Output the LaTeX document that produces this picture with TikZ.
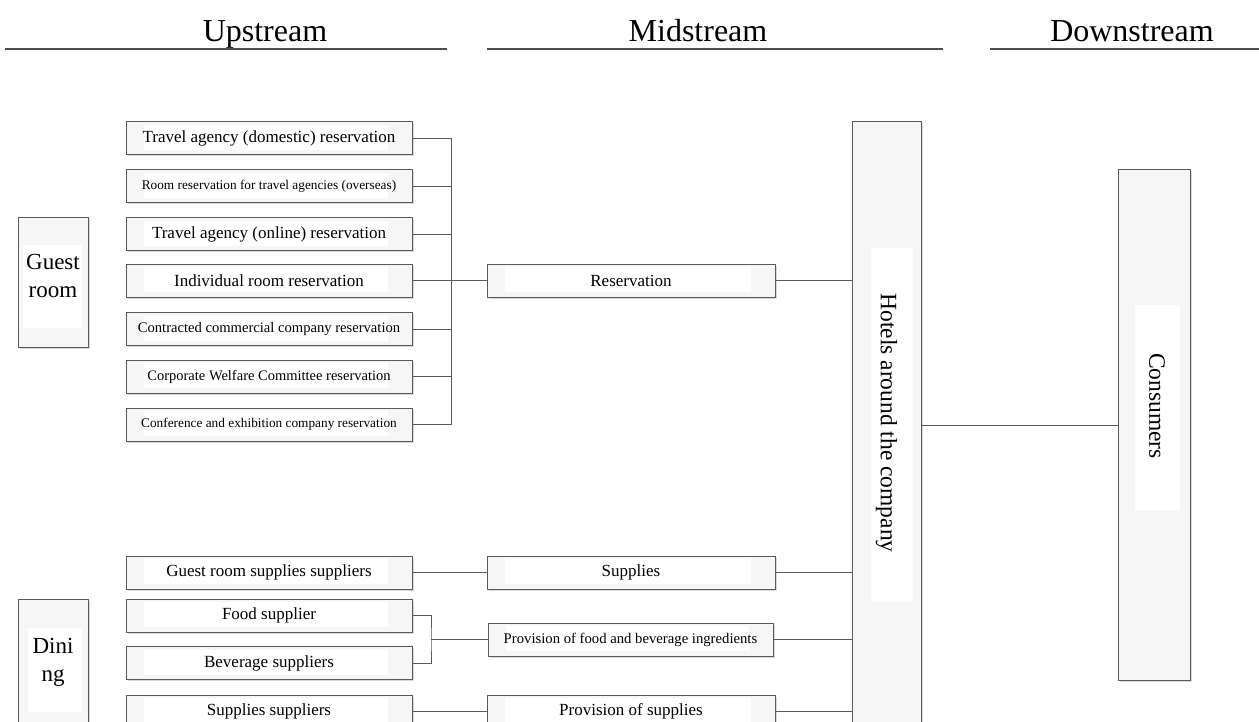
\documentclass[tikz,border=0pt]{standalone}
\usepackage{fontspec}
\setmainfont{Liberation Serif}
\usetikzlibrary{shadows}
\definecolor{boxline}{RGB}{90,90,90}
\definecolor{boxfill}{RGB}{246,246,246}
\newcommand\fsz[1]{\fontsize{#1}{#1}\selectfont}
\tikzset{
  box/.style={draw=boxline, line width=1pt, fill=boxfill, inner sep=0pt,
    minimum height=33pt, minimum width=286pt,
    drop shadow={shadow xshift=1.5pt, shadow yshift=-1.5pt, fill=black, opacity=0.15},
    path picture={\fill[white] ([xshift=18pt,yshift=-3pt]path picture bounding box.north west)
      rectangle ([xshift=-24pt,yshift=5pt]path picture bounding box.south east);}},
  tallbox/.style={draw=boxline, line width=1pt, fill=boxfill, inner sep=0pt,
    drop shadow={shadow xshift=1.5pt, shadow yshift=-1.5pt, fill=black, opacity=0.15}},
  inner/.style={fill=white},
  conn/.style={draw=boxline, line width=1pt},
  head/.style={font=\fsz{32}, anchor=base, inner sep=0pt},
  hline/.style={draw=black!70, line width=1.6pt},
  cat/.style={font=\fontsize{23}{28}\selectfont, align=center, inner sep=0pt},
}
\begin{document}
\begin{tikzpicture}[x=1pt, y=-1pt]
\useasboundingbox (0,0) rectangle (1259,722);
\begin{scope}
\clip (0,0) rectangle (1259,722);

% headers
\node[head] (up)   at (265,42)  {Upstream};
\node[head] (mid)  at (698,42)  {Midstream};
\node[head] (down) at (1132,42) {Downstream};
\draw[hline] (5,49) -- (447,49);
\draw[hline] (487,49) -- (943,49);
\draw[hline] (990,49) -- (1259,49);

% category boxes
\node[tallbox, minimum width=70pt, minimum height=129pt] (guest) at (53,282.5) {};
\fill[inner] (23,245) rectangle (82,328);
\node[cat] (guestT) at (53,276) {Guest\\room};
\node[tallbox, minimum width=70pt, minimum height=129pt] (dining) at (53,663.5) {};
\fill[inner] (28,628) rectangle (82,712);
\node[cat] (diningT) at (53,662) {Dini\\ng};

% left boxes
\node[box, font=\fsz{17}]   (r1) at (269,138.5) {Travel agency (domestic) reservation};
\node[box, font=\fsz{13.3}] (r2) at (269,186.5) {Room reservation for travel agencies (overseas)};
\node[box, font=\fsz{17}]   (r3) at (269,234.5) {Travel agency (online) reservation};
\node[box, font=\fsz{17}]   (r4) at (269,281)   {Individual room reservation};
\node[box, font=\fsz{14.6}] (r5) at (269,329)   {Contracted commercial company reservation};
\node[box, font=\fsz{14.5}] (r6) at (269,376.5) {Corporate Welfare Committee reservation};
\node[box, font=\fsz{13.3}] (r7) at (269,424.5) {Conference and exhibition company reservation};
\node[box, font=\fsz{17}]   (g)  at (269,572.5) {Guest room supplies suppliers};
\node[box, font=\fsz{17}]   (food) at (269,615.5) {Food supplier};
\node[box, font=\fsz{17}]   (bev)  at (269,663)   {Beverage suppliers};
\node[box, font=\fsz{17}]   (ss)   at (269,711.5) {Supplies suppliers};

% middle boxes
\node[box, minimum width=288pt, font=\fsz{17}]   (resv)  at (631,281)   {Reservation};
\node[box, minimum width=288pt, font=\fsz{17}]   (supp)  at (631,572.5) {Supplies};
\node[box, minimum width=285pt, font=\fsz{14.7}] (prov)  at (630.5,639.5) {Provision of food and beverage ingredients};
\node[box, minimum width=288pt, font=\fsz{17}]   (provs) at (631,711.5) {Provision of supplies};

% right boxes
\node[tallbox, minimum width=69pt, minimum height=606pt] (hot) at (886.5,425) {};
\fill[inner] (871,248) rectangle (913,602);
\node[font=\fsz{23.5}, rotate=-90, inner sep=0pt] (hotT) at (886.5,423) {Hotels around the company};
\node[tallbox, minimum width=72pt, minimum height=510pt] (cons) at (1154,425) {};
\fill[inner] (1135,305) rectangle (1180,510);
\node[font=\fsz{23.5}, rotate=-90, inner sep=0pt] (consT) at (1157,406) {Consumers};

% connectors
\coordinate (bus) at (451,281);
\foreach \n in {r1,r2,r3,r5,r6,r7} \draw[conn] (\n.east) -- (\n.east -| bus);
\draw[conn] (r1.east -| bus) -- (r7.east -| bus);
\draw[conn] (r4.east) -- (resv.west);
\draw[conn] (resv.east) -- (resv.east -| hot.west);
\draw[conn] (g.east) -- (supp.west);
\draw[conn] (supp.east) -- (supp.east -| hot.west);
\coordinate (fb) at (431,639.5);
\draw[conn] (food.east) -| (fb) |- (bev.east);
\draw[conn] (fb) -- (prov.west);
\draw[conn] (prov.east) -- (prov.east -| hot.west);
\draw[conn] (ss.east) -- (provs.west);
\draw[conn] (provs.east) -- (provs.east -| hot.west);
\draw[conn] (hot.east) -- (cons.west);
\end{scope}
\end{tikzpicture}
\end{document}
